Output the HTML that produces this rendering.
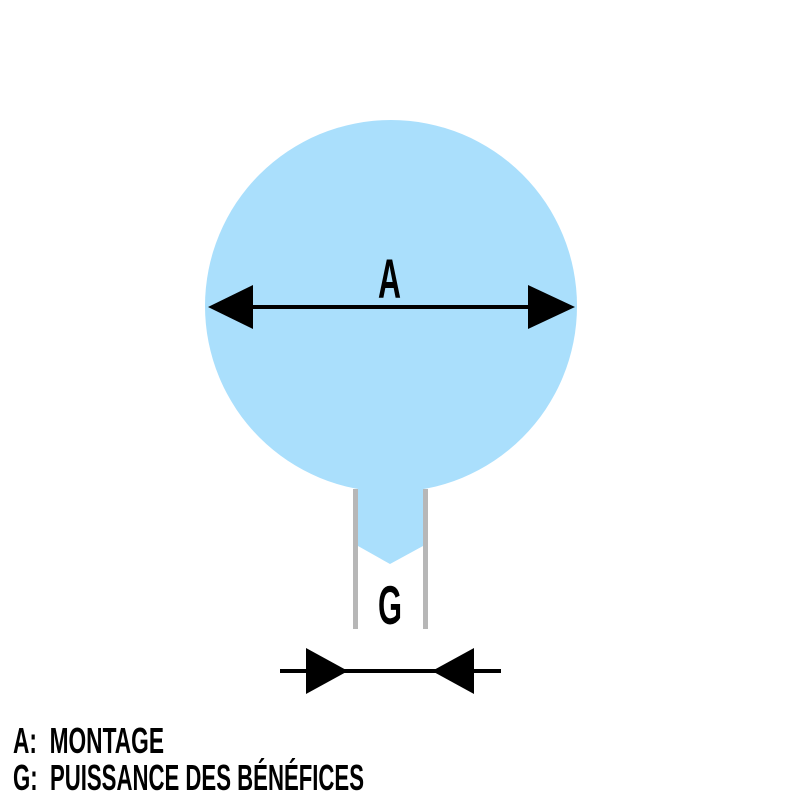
<!DOCTYPE html>
<html><head><meta charset="utf-8"><style>html,body{margin:0;padding:0;background:#fff}svg{display:block}</style></head>
<body>
<svg width="800" height="800" viewBox="0 0 800 800" xmlns="http://www.w3.org/2000/svg">
<rect width="800" height="800" fill="#fff"/>
<circle cx="391" cy="306" r="186" fill="#aadffc"/>
<polygon points="358,470 423,470 423,546 390,564 358,546" fill="#aadffc"/>
<rect x="353" y="489" width="5" height="140" fill="#b7b7b7"/>
<rect x="423" y="489" width="5" height="140" fill="#b7b7b7"/>
<rect x="240" y="305" width="300" height="4" fill="#000"/>
<polygon points="208,307 253,285 253,329" fill="#000"/>
<polygon points="575,307 528,285 528,329" fill="#000"/>
<rect x="280" y="669" width="221" height="4" fill="#000"/>
<polygon points="306,648 348,671 306,694" fill="#000"/>
<polygon points="474,648 432,671 474,694" fill="#000"/>
<g font-family="Liberation Sans, sans-serif" font-weight="bold" fill="#000">
<text x="378" y="298" font-size="56" textLength="23" lengthAdjust="spacingAndGlyphs">A</text>
<text x="378" y="624" font-size="55" textLength="24" lengthAdjust="spacingAndGlyphs">G</text>
<text x="13" y="753" font-size="36" textLength="151" lengthAdjust="spacingAndGlyphs">A:&#160; MONTAGE</text>
<text x="13" y="790" font-size="36" textLength="351" lengthAdjust="spacingAndGlyphs">G:&#160; PUISSANCE DES BÉNÉFICES</text>
</g>
</svg>
</body></html>
